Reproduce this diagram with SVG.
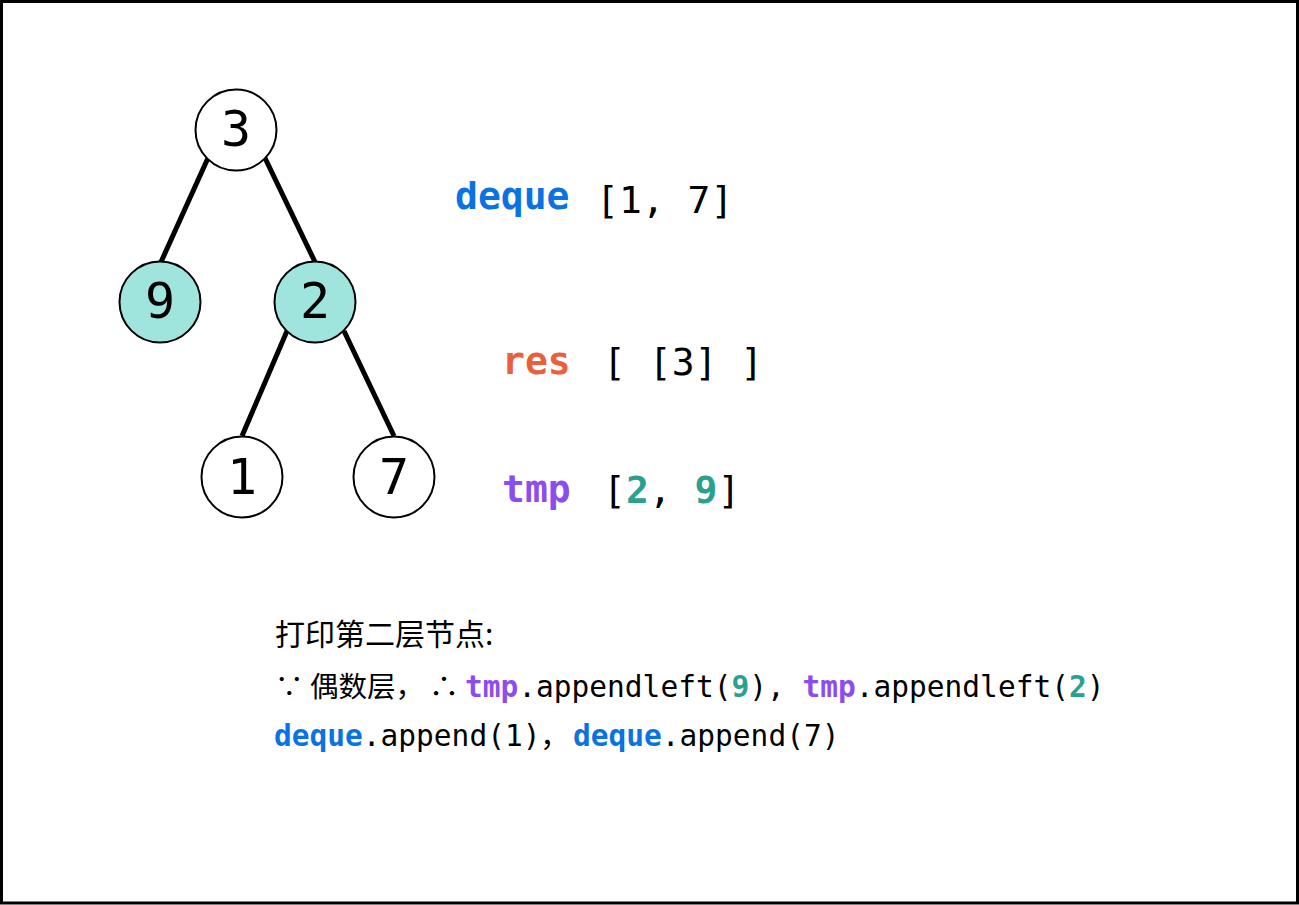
<svg xmlns="http://www.w3.org/2000/svg" width="1299" height="905" viewBox="0 0 1299 905">
<style>
.node circle{stroke:#000;stroke-width:2}
.node text{font-family:"DejaVu Sans Mono","Liberation Mono",monospace;font-size:50px;text-anchor:middle;fill:#000}
.edge{stroke:#000;stroke-width:5;fill:none}
.big{font-family:"DejaVu Sans Mono","Liberation Mono",monospace;font-size:38px;fill:#000}
.small{font-family:"DejaVu Sans Mono","Liberation Mono","Noto Sans CJK SC",monospace;font-size:29.5px;fill:#000}
.cjk{font-family:"Noto Sans CJK SC",sans-serif;font-size:30px;fill:#000}
.b{font-weight:bold}
.blue{fill:#0a72e2}
.red{fill:#e8603c}
.purple{fill:#8c4cf0}
.teal{fill:#2aa190}
</style>
<rect x="1.5" y="1.5" width="1296" height="901.5" fill="#fff" stroke="#000" stroke-width="3"/>
<g id="connectors">
<line class="edge" x1="208" y1="158" x2="161" y2="262"/>
<line class="edge" x1="265" y1="158" x2="315" y2="262"/>
<line class="edge" x1="287" y1="331" x2="242" y2="436"/>
<line class="edge" x1="344" y1="331" x2="394" y2="436"/>
</g>
<g id="node3" class="node"><circle cx="236" cy="130" r="40.5" fill="#fff"/><text x="236" y="146">3</text></g>
<g id="node9" class="node"><circle cx="160" cy="302" r="40.5" fill="#a0e5dd"/><text x="160" y="318">9</text></g>
<g id="node2" class="node"><circle cx="315" cy="302" r="40.5" fill="#a0e5dd"/><text x="315" y="318">2</text></g>
<g id="node1" class="node"><circle cx="242" cy="477" r="40.5" fill="#fff"/><text x="242" y="494">1</text></g>
<g id="node7" class="node"><circle cx="394" cy="477" r="40.5" fill="#fff"/><text x="394" y="494">7</text></g>
<g id="labels">
<text class="big b blue" x="455" y="209">deque</text>
<text class="big" x="596" y="213">[1, 7]</text>
<text class="big b red" x="502" y="374">res</text>
<text class="big" x="603" y="375">[ [3] ]</text>
<text class="big b purple" x="502" y="502">tmp</text>
<text class="big" x="603" y="503">[<tspan class="b teal">2</tspan>, <tspan class="b teal">9</tspan>]</text>
</g>
<g id="notes">
<text class="cjk" x="275" y="645">打印第二层节点:</text>
<text class="small" x="275" y="697"><tspan class="cjk" style="font-size:28.5px">∵ 偶数层，</tspan><tspan class="cjk" x="429">∴</tspan><tspan x="465" class="b purple">tmp</tspan>.appendleft(<tspan class="b teal">9</tspan>), <tspan class="b purple">tmp</tspan>.appendleft(<tspan class="b teal">2</tspan>)</text>
<text class="small" x="274" y="746"><tspan class="b blue">deque</tspan>.append(1)<tspan class="cjk" x="540">，</tspan><tspan x="573" class="b blue">deque</tspan>.append(7)</text>
</g>
</svg>
